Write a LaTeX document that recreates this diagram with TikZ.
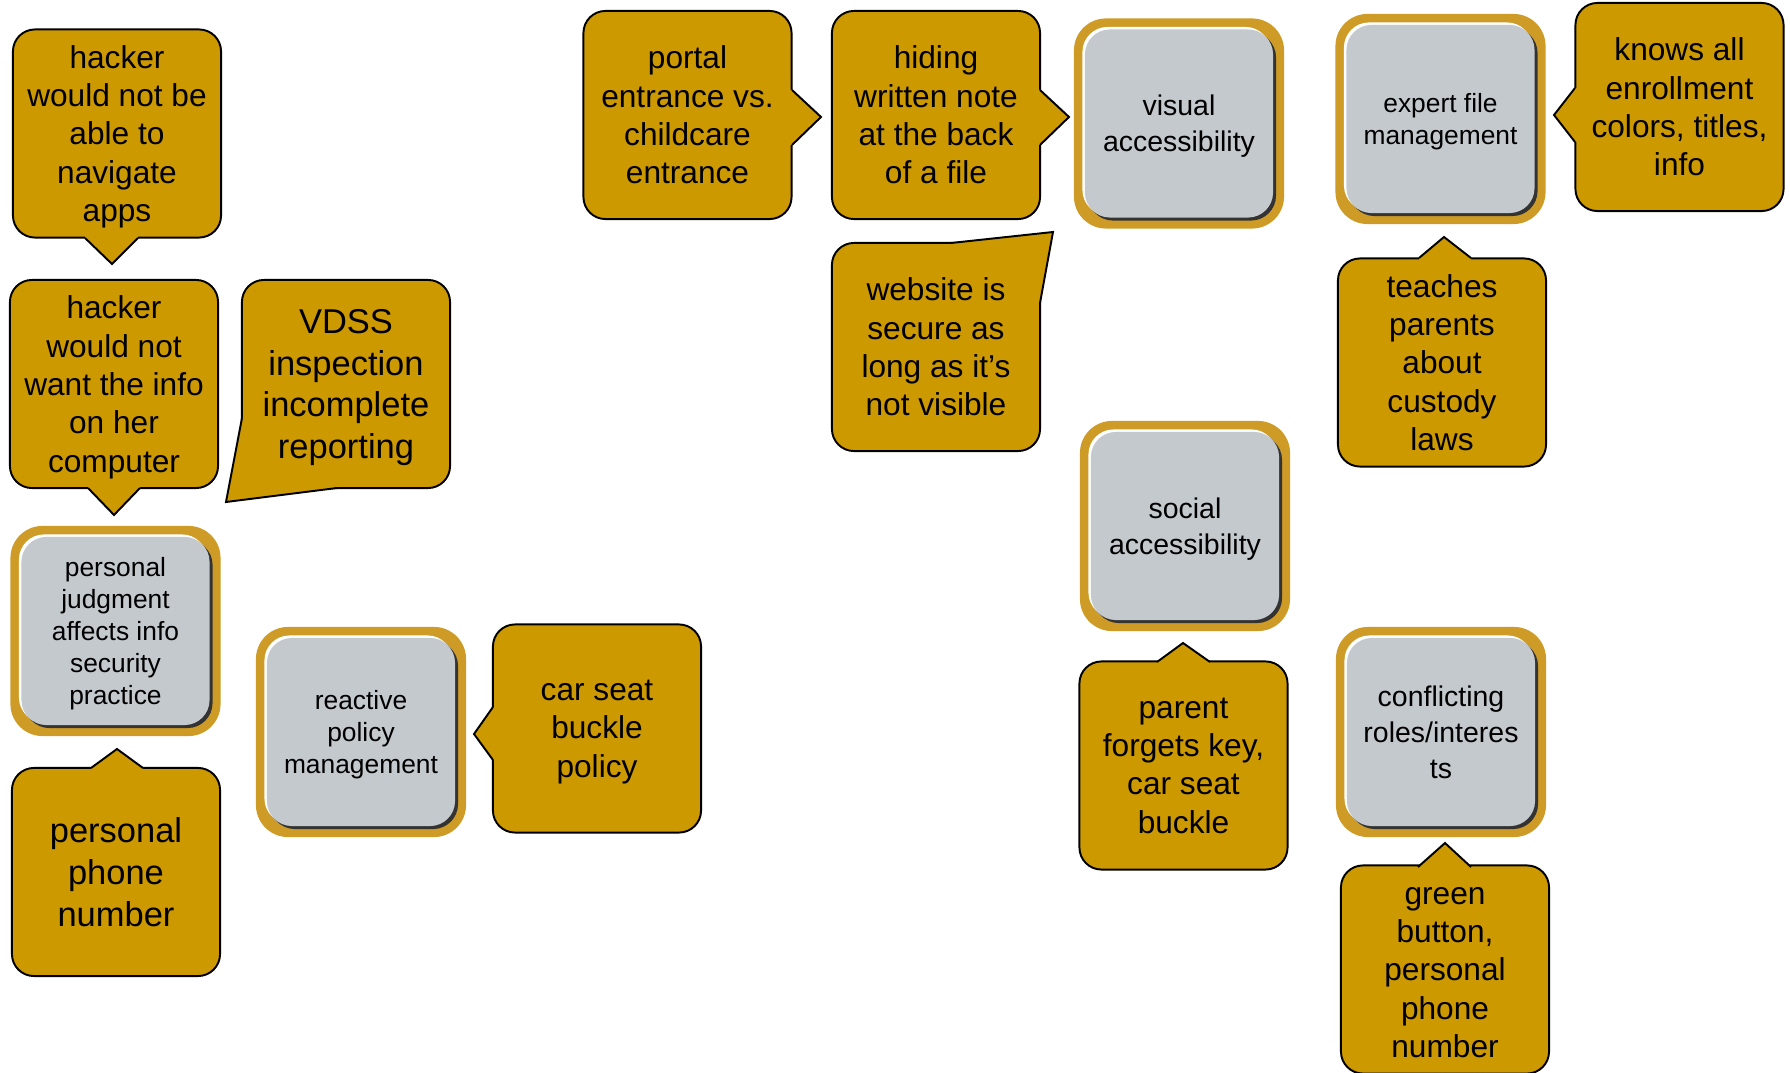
\documentclass[tikz,border=0pt]{standalone}
\usepackage{fontspec}
\setmainfont{Liberation Sans}
\usepackage{tikz}
\usetikzlibrary{shadows}

\definecolor{callgold}{RGB}{204,153,0}
\definecolor{ringgold}{RGB}{206,155,38}
\definecolor{topicgray}{RGB}{196,201,205}

\begin{document}
\begin{tikzpicture}[x=0.01cm,y=-0.01cm,
    note/.style={draw,line width=0.55pt,fill=callgold,rounded corners=2.2mm,
        minimum width=2.08cm,minimum height=2.08cm,inner sep=0pt,align=center,text depth=-1.3pt,
        font=\fontsize{9}{10.9}\selectfont},
    bignote/.style={note,font=\fontsize{9.8}{11.9}\selectfont},
    ring/.style={fill=ringgold,rounded corners=3.2mm,minimum size=2.1cm,inner sep=0pt},
    topic/.style={fill=topicgray,rounded corners=2.5mm,minimum size=1.88cm,inner sep=0pt,align=center,text depth=0pt,
        general shadow={fill=white,shadow xshift=-0.25mm,shadow yshift=0.25mm},
        general shadow={fill=black!80,shadow xshift=0.3mm,shadow yshift=-0.3mm},
        font=\fontsize{7.5}{9.1}\selectfont},
    bigtopic/.style={topic,font=\fontsize{8.1}{10.2}\selectfont},
    tail/.style={line width=0.55pt,line join=miter}]
    \useasboundingbox (0,0) rectangle (1790,1073);

    % left column
    \node[note] (apps) at (117,133.5) {hacker\\would not be\\able to\\navigate\\apps};
    \fill[callgold] (85,234) -- (85,238) -- (112,264) -- (138,238) -- (138,234) -- cycle;
    \draw[tail] (85,238) -- (112,264) -- (138,238);

    \node[note] (computer) at (114,384) {hacker\\would not\\want the info\\on her\\computer};
    \fill[callgold] (88,484) -- (88,488) -- (114,515) -- (140,488) -- (140,484) -- cycle;
    \draw[tail] (88,488) -- (114,515) -- (140,488);

    \node[bignote] (vdss) at (346,384) {VDSS\\inspection\\incomplete\\reporting};
    \fill[callgold] (244,418) -- (242,418) -- (226,502) -- (337,488) -- (337,485) -- (268,485) -- (268,462) -- (244,462) -- cycle;
    \draw[tail] (242,418) -- (226,502) -- (337,488);

    \node[ring] (judgring) at (115.5,631) {};
    \node[topic] (judgment) at (judgring) {personal\\judgment\\affects info\\security\\practice};

    \node[bignote] (phone) at (116,872) {personal\\phone\\number};
    \fill[callgold] (91,772) -- (91,768) -- (117,749) -- (143,768) -- (143,772) -- cycle;
    \draw[tail] (91,768) -- (117,749) -- (143,768);

    \node[ring] (reactring) at (361,732) {};
    \node[topic] (reactive) at (reactring) {reactive\\policy\\management};

    \node[note] (carseat) at (597,728.5) {car seat\\buckle\\policy};
    \fill[callgold] (497,707) -- (493,707) -- (474,734) -- (493,760) -- (497,760) -- cycle;
    \draw[tail] (493,707) -- (474,734) -- (493,760);

    % top row
    \node[note] (portal) at (687.5,115) {portal\\entrance vs.\\childcare\\entrance};
    \fill[callgold] (788,90) -- (792,90) -- (821,117) -- (792,145) -- (788,145) -- cycle;
    \draw[tail] (792,90) -- (821,117) -- (792,145);

    \node[note] (hiding) at (936,115) {hiding\\written note\\at the back\\of a file};
    \fill[callgold] (1036,90) -- (1040,90) -- (1069,117) -- (1040,145) -- (1036,145) -- cycle;
    \draw[tail] (1040,90) -- (1069,117) -- (1040,145);

    \node[note] (website) at (936,347) {website is\\secure as\\long as it’s\\not visible};
    \fill[callgold] (951,245) -- (951,243) -- (1053,232) -- (1040,303) -- (1038,303) -- (1038,270) -- (1012,270) -- (1012,245) -- cycle;
    \draw[tail] (951,243) -- (1053,232) -- (1040,303);

    \node[ring] (visring) at (1179,123.5) {};
    \node[bigtopic] (visual) at (visring) {visual\\accessibility};

    \node[ring] (expring) at (1440.5,119) {};
    \node[topic] (expert) at (expring) {expert file\\management};

    \node[note] (knows) at (1679.5,107) {knows all\\enrollment\\colors, titles,\\info};
    \fill[callgold] (1579,88) -- (1575,88) -- (1554,115) -- (1575,142) -- (1579,142) -- cycle;
    \draw[tail] (1575,88) -- (1554,115) -- (1575,142);

    \node[note] (custody) at (1442,362.5) {teaches\\parents\\about\\custody\\laws};
    \fill[callgold] (1419,262) -- (1419,258) -- (1444,237) -- (1471,258) -- (1471,262) -- cycle;
    \draw[tail] (1419,258) -- (1444,237) -- (1471,258);

    % right part
    \node[ring] (socring) at (1185,526) {};
    \node[bigtopic] (social) at (socring) {social\\accessibility};

    \node[note] (forgets) at (1183.5,765.5) {parent\\forgets key,\\car seat\\buckle};
    \fill[callgold] (1157,666) -- (1157,662) -- (1183,643) -- (1210,662) -- (1210,666) -- cycle;
    \draw[tail] (1157,662) -- (1183,643) -- (1210,662);

    \node[ring] (confring) at (1441,732) {};
    \node[bigtopic] (conflict) at (confring) {conflicting\\roles/interes\\ts};

    \node[note] (button) at (1445,969.5) {\vphantom{b}green\\button,\\personal\\phone\\number};
    \fill[callgold] (1418,871) -- (1418,867) -- (1445,843) -- (1471,867) -- (1471,871) -- cycle;
    \draw[tail] (1418,867) -- (1445,843) -- (1471,867);
\end{tikzpicture}
\end{document}
